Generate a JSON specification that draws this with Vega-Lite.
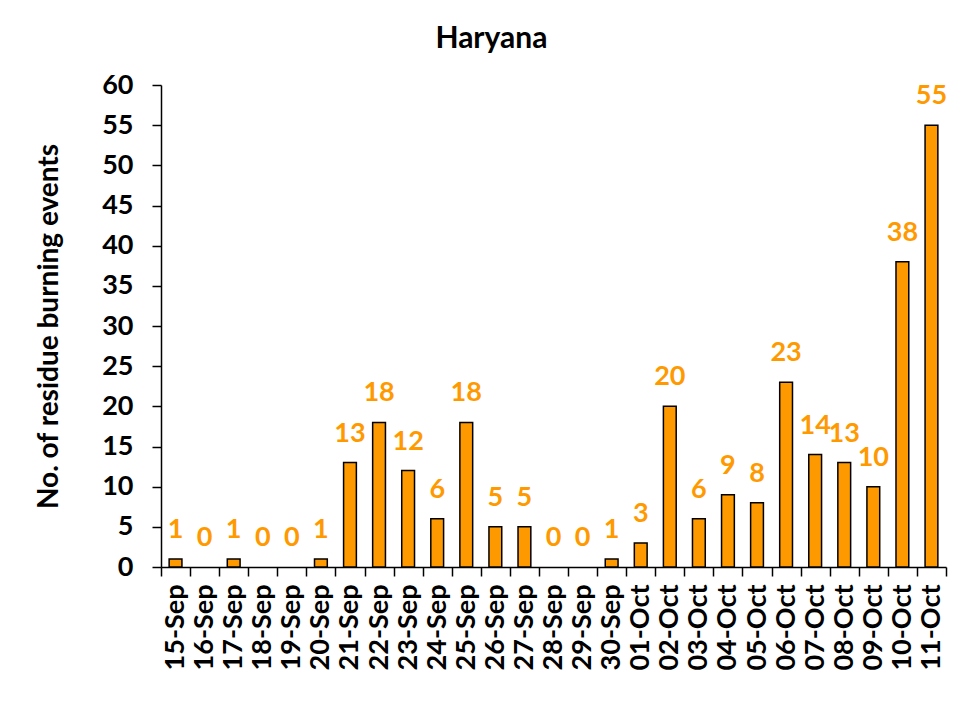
{
  "$schema": "https://vega.github.io/schema/vega-lite/v6.json",
  "autosize": "none",
  "width": 785,
  "height": 482,
  "padding": {"left": 161, "top": 85, "right": 15, "bottom": 141},
  "background": "white",
  "title": {"text": "Haryana", "font": "Lato", "fontSize": 30, "fontWeight": "bold", "color": "black", "anchor": "middle", "frame": "bounds", "offset": 17},
  "config": {"view": {"stroke": null}, "font": "Lato"},
  "data": {"values": [
    {"date": "15-Sep", "count": 1}, {"date": "16-Sep", "count": 0}, {"date": "17-Sep", "count": 1},
    {"date": "18-Sep", "count": 0}, {"date": "19-Sep", "count": 0}, {"date": "20-Sep", "count": 1},
    {"date": "21-Sep", "count": 13}, {"date": "22-Sep", "count": 18}, {"date": "23-Sep", "count": 12},
    {"date": "24-Sep", "count": 6}, {"date": "25-Sep", "count": 18}, {"date": "26-Sep", "count": 5},
    {"date": "27-Sep", "count": 5}, {"date": "28-Sep", "count": 0}, {"date": "29-Sep", "count": 0},
    {"date": "30-Sep", "count": 1}, {"date": "01-Oct", "count": 3}, {"date": "02-Oct", "count": 20},
    {"date": "03-Oct", "count": 6}, {"date": "04-Oct", "count": 9}, {"date": "05-Oct", "count": 8},
    {"date": "06-Oct", "count": 23}, {"date": "07-Oct", "count": 14}, {"date": "08-Oct", "count": 13},
    {"date": "09-Oct", "count": 10}, {"date": "10-Oct", "count": 38}, {"date": "11-Oct", "count": 55}
  ]},
  "encoding": {
    "x": {
      "field": "date", "type": "nominal", "sort": null,
      "scale": {"paddingInner": 0, "paddingOuter": 0},
      "axis": {
        "title": null, "labelAngle": -90, "tickBand": "extent", "tickSize": 9, "tickWidth": 1.5,
        "tickColor": "black", "domainColor": "black", "domainWidth": 1.5, "labelPadding": 8,
        "labelFont": "Lato", "labelFontSize": 27, "labelFontWeight": "bold", "labelColor": "black"
      }
    },
    "y": {
      "field": "count", "type": "quantitative",
      "scale": {"domain": [0, 60], "nice": false},
      "axis": {
        "title": "No. of residue burning events", "titleFont": "Lato", "titleFontSize": 28, "titleFontWeight": "bold",
        "titleColor": "black", "titlePadding": 38,
        "values": [0, 5, 10, 15, 20, 25, 30, 35, 40, 45, 50, 55, 60],
        "grid": false, "tickSize": 9, "tickWidth": 1.5, "tickColor": "black", "domainColor": "black", "domainWidth": 1.5,
        "labelPadding": 19, "labelFont": "Lato", "labelFontSize": 27, "labelFontWeight": "bold", "labelColor": "black"
      }
    }
  },
  "layer": [
    {"mark": {"type": "bar", "width": {"band": 0.44}, "fill": "#FF9900", "stroke": "black", "strokeWidth": 1.5},
     "encoding": {"strokeOpacity": {"condition": {"test": "datum.count > 0", "value": 1}, "value": 0}}},
    {"mark": {"type": "text", "baseline": "bottom", "dy": -15, "color": "#FF9900", "font": "Lato", "fontSize": 27, "fontWeight": "bold"},
     "encoding": {"text": {"field": "count", "type": "quantitative"}}}
  ]
}
